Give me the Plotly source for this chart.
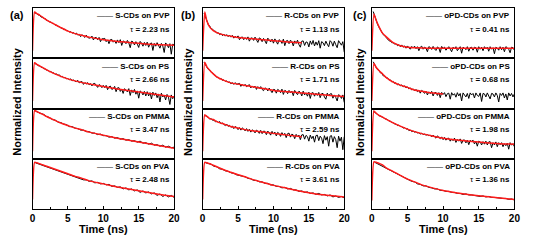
import plotly.graph_objects as go

FONT = "Liberation Sans"
W, H = 544, 240

panel_labels = ["(a)", "(b)", "(c)"]
sample_names = [
    ["S-CDs on PVP", "S-CDs on PS", "S-CDs on PMMA", "S-CDs on PVA"],
    ["R-CDs on PVP", "R-CDs on PS", "R-CDs on PMMA", "R-CDs on PVA"],
    ["oPD-CDs on PVP", "oPD-CDs on PS", "oPD-CDs on PMMA", "oPD-CDs on PVA"],
]
lifetimes = [
    ["2.23", "2.66", "3.47", "2.48"],
    ["1.13", "1.71", "2.59", "3.61"],
    ["0.41", "0.68", "1.98", "1.36"],
]
x_ticks = [0, 5, 10, 15, 20]

# time grids (ns)
time_coarse = [0.4, 0.8, 1.2, 1.6, 2.0, 2.4, 2.8, 3.2, 3.6, 4.0,
               4.4, 4.8, 5.2, 5.6, 6.0, 6.4, 6.8, 7.2, 7.6, 8.0,
               8.4, 8.8, 9.2, 9.6, 10.0, 10.4, 10.8, 11.2, 11.6, 12.0,
               12.4, 12.8, 13.2, 13.6, 14.0, 14.4, 14.8, 15.2, 15.6, 16.0,
               16.4, 16.8, 17.2, 17.6, 18.0, 18.4, 18.8, 19.2, 19.6, 20.0]
time_fine = [0.2, 0.4, 0.6, 0.8, 1.0, 1.2, 1.4, 1.6, 1.8, 2.0,
             2.2, 2.4, 2.6, 2.8, 3.0, 3.2, 3.4, 3.6, 3.8, 4.0,
             4.2, 4.4, 4.6, 4.8, 5.0, 5.2, 5.4, 5.6, 5.8, 6.0,
             6.2, 6.4, 6.6, 6.8, 7.0, 7.2, 7.4, 7.6, 7.8, 8.0,
             8.2, 8.4, 8.6, 8.8, 9.0, 9.2, 9.4, 9.6, 9.8, 10.0,
             10.2, 10.4, 10.6, 10.8, 11.0, 11.2, 11.4, 11.6, 11.8, 12.0,
             12.2, 12.4, 12.6, 12.8, 13.0, 13.2, 13.4, 13.6, 13.8, 14.0,
             14.2, 14.4, 14.6, 14.8, 15.0, 15.2, 15.4, 15.6, 15.8, 16.0,
             16.2, 16.4, 16.6, 16.8, 17.0, 17.2, 17.4, 17.6, 17.8, 18.0,
             18.2, 18.4, 18.6, 18.8, 19.0, 19.2, 19.4, 19.6, 19.8, 20.0]

# measured decays (normalized, visual scale)
s_pvp = [.91, .90, .89, .86, .86, .82, .82, .79, .79, .75,
         .75, .72, .72, .69, .69, .66, .66, .63, .63, .60,
         .60, .57, .58, .55, .55, .52, .53, .50, .51, .48,
         .50, .46, .475, .43, .47, .44, .415, .46, .415, .40,
         .405, .44, .365, .41, .415, .37, .415, .33, .385, .39,
         .395, .33, .365, .29, .37, .375, .32, .35, .295, .365,
         .31, .37, .255, .345, .33, .29, .355, .305, .21, .34,
         .325, .265, .33, .28, .215, .335, .30, .24, .315, .255,
         .32, .22, .29, .305, .155, .295, .24, .31, .25, .20,
         .295, .245, .115, .305, .27, .21, .29, .08, .28, .27]
s_ps = [.90, .89, .88, .85, .85, .82, .82, .79, .79, .76,
        .76, .73, .74, .71, .71, .68, .69, .66, .67, .63,
        .64, .61, .62, .59, .60, .57, .59, .55, .57, .54,
        .535, .56, .51, .53, .535, .48, .515, .49, .515, .47,
        .495, .45, .495, .50, .445, .42, .475, .46, .415, .46,
        .415, .46, .375, .43, .445, .38, .395, .44, .335, .41,
        .415, .34, .385, .30, .395, .37, .33, .395, .26, .37,
        .315, .38, .285, .35, .205, .35, .325, .27, .34, .25,
        .335, .25, .315, .19, .325, .26, .31, .215, .29, .13,
        .305, .23, .265, .17, .28, .225, .08, .27, .195, .25]
s_pmma = [.95, .92, .90, .88, .84, .82, .78, .77, .73, .72,
          .69, .68, .64, .64, .61, .60, .57, .57, .54, .54,
          .51, .51, .48, .49, .46, .46, .43, .44, .41, .42,
          .39, .40, .37, .38, .35, .36, .33, .35, .31, .32,
          .29, .31, .27, .28, .25, .27, .23, .25, .22, .23]
s_pva = [.92, .90, .89, .86, .85, .82, .81, .78, .77, .74,
         .73, .70, .69, .66, .65, .62, .61, .58, .58, .55,
         .56, .52, .53, .50, .51, .48, .49, .45, .46, .43,
         .44, .40, .42, .38, .40, .36, .38, .33, .36, .32,
         .34, .30, .32, .27, .30, .25, .28, .24, .27, .23]
r_pvp = [.90, .82, .75, .67, .64, .59, .58, .54, .54, .50,
         .51, .47, .49, .45, .48, .44, .47, .43, .46, .42,
         .455, .40, .435, .41, .445, .37, .41, .425, .37, .41,
         .375, .425, .34, .40, .405, .355, .42, .36, .315, .405,
         .39, .33, .395, .345, .29, .40, .365, .325, .38, .30,
         .385, .325, .28, .37, .345, .295, .38, .25, .345, .355,
         .29, .36, .33, .245, .345, .295, .36, .27, .22, .34,
         .345, .255, .325, .315, .225, .345, .275, .355, .245, .325,
         .26, .35, .20, .33, .31, .25, .34, .28, .23, .35,
         .32, .24, .34, .27, .21, .35, .31, .26, .33, .12]
r_ps = [.92, .86, .82, .78, .76, .72, .71, .67, .66, .62,
        .62, .59, .60, .56, .57, .54, .55, .52, .53, .49,
        .515, .48, .515, .48, .485, .50, .44, .475, .45, .48,
        .435, .46, .475, .41, .445, .42, .445, .38, .435, .40,
        .435, .38, .355, .41, .395, .35, .405, .36, .315, .38,
        .375, .305, .38, .36, .315, .385, .28, .36, .345, .295,
        .36, .31, .345, .255, .36, .31, .275, .345, .32, .25,
        .345, .27, .31, .245, .325, .20, .31, .315, .245, .305,
        .26, .32, .215, .295, .30, .23, .185, .305, .25, .29,
        .295, .205, .27, .22, .15, .275, .255, .20, .27, .12]
r_pmma = [.87, .86, .835, .825, .79, .80, .765, .77, .735, .75,
          .72, .74, .695, .71, .685, .66, .69, .645, .665, .625,
          .65, .60, .64, .625, .58, .62, .57, .615, .59, .555,
          .60, .545, .585, .53, .575, .56, .515, .57, .55, .505,
          .565, .50, .55, .545, .48, .55, .52, .47, .545, .49,
          .53, .455, .525, .50, .445, .52, .47, .505, .42, .50,
          .51, .43, .49, .475, .40, .485, .44, .47, .38, .475,
          .48, .39, .465, .44, .35, .47, .40, .45, .33, .46,
          .47, .36, .45, .41, .30, .46, .37, .44, .25, .45,
          .46, .33, .44, .38, .22, .45, .35, .43, .18, .44]
r_pva = [.92, .90, .89, .85, .84, .80, .79, .76, .75, .72,
         .71, .68, .67, .65, .64, .61, .60, .57, .57, .54,
         .54, .51, .51, .48, .48, .45, .45, .42, .43, .40,
         .41, .38, .38, .35, .36, .33, .34, .31, .32, .29,
         .31, .28, .29, .26, .28, .24, .26, .23, .25, .22]
o_pvp = [.93, .84, .75, .68, .62, .56, .52, .47, .45, .41,
         .39, .35, .34, .31, .31, .28, .29, .25, .27, .23,
         .265, .22, .245, .20, .245, .22, .18, .235, .205, .24,
         .19, .23, .15, .22, .24, .18, .22, .20, .13, .23,
         .215, .175, .235, .185, .155, .225, .205, .115, .235, .195,
         .22, .16, .21, .23, .18, .13, .22, .19, .23, .15,
         .19, .23, .10, .22, .20, .17, .23, .14, .21, .22,
         .16, .22, .21, .12, .23, .18, .22, .15, .23, .19,
         .22, .14, .23, .18, .21, .09, .22, .20, .16, .23,
         .17, .22, .13, .23, .21, .18, .11, .22, .21, .16]
o_ps = [.93, .86, .82, .78, .76, .71, .70, .65, .65, .61,
        .61, .57, .57, .53, .54, .50, .51, .47, .49, .45,
        .47, .43, .45, .41, .43, .39, .41, .37, .39, .35,
        .38, .335, .36, .305, .36, .335, .30, .345, .27, .33,
        .295, .34, .25, .315, .32, .26, .315, .215, .32, .28,
        .315, .235, .295, .305, .185, .315, .265, .295, .225, .315,
        .25, .30, .15, .31, .28, .23, .30, .20, .31, .27,
        .30, .21, .31, .26, .24, .31, .14, .30, .29, .23,
        .31, .25, .19, .30, .29, .23, .31, .26, .13, .30,
        .26, .31, .21, .29, .17, .31, .25, .30, .23, .29]
o_pmma = [.95, .92, .90, .88, .86, .85, .83, .82, .80, .79,
          .78, .75, .75, .72, .72, .69, .69, .66, .67, .64,
          .64, .61, .62, .59, .60, .56, .57, .54, .55, .53,
          .54, .51, .52, .49, .51, .48, .49, .47, .48, .46,
          .47, .435, .47, .435, .41, .455, .43, .40, .435, .38,
          .425, .37, .405, .41, .35, .395, .36, .41, .325, .385,
          .35, .395, .305, .37, .375, .315, .37, .28, .365, .345,
          .37, .295, .345, .25, .35, .335, .275, .34, .29, .35,
          .275, .335, .34, .22, .32, .275, .335, .24, .32, .28,
          .32, .24, .30, .26, .31, .19, .32, .27, .30, .24]
o_pva = [.93, .90, .88, .84, .82, .78, .76, .72, .70, .66,
         .64, .60, .58, .55, .54, .50, .49, .46, .46, .43,
         .42, .40, .40, .37, .37, .35, .35, .33, .33, .31,
         .31, .29, .30, .28, .28, .27, .27, .25, .26, .24,
         .25, .23, .23, .22, .22, .21, .21, .19, .20, .18]

# fitted curves
fit_time = [0, 0.3, 0.6, 1, 1.5, 2, 3, 4, 5, 6, 7, 8, 10, 12, 14, 16, 18, 20]
s_pvp_fit = [.15, .92, .89, .86, .81, .76, .685, .61, .54, .49, .455, .42, .37, .335, .31, .285, .27, .26]
s_ps_fit = [.15, .91, .88, .85, .81, .77, .70, .64, .59, .55, .515, .49, .44, .39, .35, .31, .27, .23]
s_pmma_fit = [.15, .96, .94, .91, .88, .84, .775, .71, .66, .61, .575, .53, .47, .41, .36, .31, .26, .21]
s_pva_fit = [.19, .93, .92, .90, .875, .85, .80, .75, .70, .65, .61, .56, .50, .44, .39, .34, .29, .25]
r_pvp_fit = [.15, .92, .74, .62, .55, .51, .465, .44, .415, .40, .39, .375, .35, .325, .31, None, None, None]
r_ps_fit = [.15, .92, .83, .76, .69, .63, .56, .51, .485, .46, .435, .41, .36, .335, .31, .285, .26, .24]
r_pmma_fit = [.15, .87, .845, .80, .78, .74, .69, .64, .61, .58, .555, .54, .505, .47, .44, None, None, None]
r_pva_fit = [.19, .93, .92, .90, .87, .84, .78, .73, .68, .64, .59, .55, .47, .41, .35, .30, .27, .24]
o_pvp_fit = [.15, .88, .76, .63, .50, .43, .31, .25, .22, .21, .205, .20, .20, .20, .20, .20, .20, .20]
o_ps_fit = [.15, .90, .82, .755, .69, .62, .525, .465, .42, .37, .345, .32, .29, None, None, None, None, None]
o_pmma_fit = [.15, .95, .91, .865, .83, .79, .715, .65, .59, .54, .50, .47, .41, .375, .345, .32, .30, .29]
o_pva_fit = [.17, .94, .93, .91, .88, .82, .745, .67, .595, .54, .48, .44, .37, .32, .28, .25, .22, .19]

decays = [[s_pvp, s_ps, s_pmma, s_pva], [r_pvp, r_ps, r_pmma, r_pva], [o_pvp, o_ps, o_pmma, o_pva]]
fits = [[s_pvp_fit, s_ps_fit, s_pmma_fit, s_pva_fit],
        [r_pvp_fit, r_ps_fit, r_pmma_fit, r_pva_fit],
        [o_pvp_fit, o_ps_fit, o_pmma_fit, o_pva_fit]]

# layout geometry (pixels)
panel_x = [(30, 174), (203, 347), (375, 520)]
top_px, bottom_px = 8, 209
row_h = (bottom_px - top_px) / 4
label_x = [14, 188, 363]


def px(x):
    return x / W


def py(y):
    return 1 - y / H


fig = go.Figure()
layout = dict(
    width=W, height=H, margin=dict(l=0, r=0, t=0, b=0),
    paper_bgcolor="white", plot_bgcolor="white", showlegend=False,
    font=dict(family=FONT, color="black"),
)
annotations = []

for p in range(3):
    x0, x1 = panel_x[p]
    for r in range(4):
        idx = p * 4 + r + 1
        xa = "x" if idx == 1 else f"x{idx}"
        ya = "y" if idx == 1 else f"y{idx}"
        xkey = "xaxis" if idx == 1 else f"xaxis{idx}"
        ykey = "yaxis" if idx == 1 else f"yaxis{idx}"
        t_px = top_px + r * row_h
        b_px = top_px + (r + 1) * row_h
        bottom = r == 3
        xaxis = dict(
            domain=[px(x0), px(x1)], anchor=ya, range=[0, 20],
            showline=True, mirror=True, linecolor="black", linewidth=1,
            showgrid=False, zeroline=False,
            tickvals=x_ticks if bottom else [],
            showticklabels=bottom,
            ticks="inside" if bottom else "", ticklen=3, tickcolor="black",
            tickfont=dict(family=FONT, size=10, weight="bold", color="black"),
        )
        if bottom:
            xaxis["minor"] = dict(ticks="inside", dtick=2.5, ticklen=2, tickcolor="black")
        layout[xkey] = xaxis
        layout[ykey] = dict(
            domain=[py(b_px), py(t_px)], anchor=xa, range=[0, 1.0],
            showline=True, mirror=True, linecolor="black", linewidth=1,
            showgrid=False, zeroline=False, showticklabels=False, ticks="",
        )
        ys = decays[p][r]
        xs = time_fine if len(ys) == len(time_fine) else time_coarse
        fig.add_trace(go.Scatter(
            x=xs, y=ys, xaxis=xa, yaxis=ya, mode="lines",
            line=dict(color="black", width=1.0),
        ))
        fig.add_trace(go.Scatter(
            x=fit_time, y=fits[p][r], xaxis=xa, yaxis=ya, mode="lines",
            line=dict(color="#ff1a1a", width=1.5, shape="spline", smoothing=0.5),
            connectgaps=False,
        ))
        annotations.append(dict(
            x=px(x1 - 2), y=py(t_px + 8), xref="paper", yref="paper",
            xanchor="right", yanchor="middle", showarrow=False,
            text="\u2014\u2014 <b>" + sample_names[p][r] + "</b>",
            font=dict(family=FONT, size=8, color="black"),
        ))
        annotations.append(dict(
            x=px(x1 - 2), y=py(t_px + 21), xref="paper", yref="paper",
            xanchor="right", yanchor="middle", showarrow=False,
            text="\u03c4<b> = " + lifetimes[p][r] + " ns</b>",
            font=dict(family=FONT, size=8, color="black"),
        ))
    annotations.append(dict(
        x=px(label_x[p]), y=py(15), xref="paper", yref="paper",
        xanchor="center", yanchor="middle", showarrow=False,
        text="<b>" + panel_labels[p] + "</b>",
        font=dict(family=FONT, size=11, color="black"),
    ))
    annotations.append(dict(
        x=px(label_x[p]), y=py(102), xref="paper", yref="paper",
        xanchor="center", yanchor="middle", showarrow=False, textangle=-90,
        text="<b>Normalized Intensity</b>",
        font=dict(family=FONT, size=11, color="black"),
    ))
    annotations.append(dict(
        x=px((x0 + x1) / 2), y=py(229), xref="paper", yref="paper",
        xanchor="center", yanchor="middle", showarrow=False,
        text="<b>Time (ns)</b>",
        font=dict(family=FONT, size=11, color="black"),
    ))

layout["annotations"] = annotations
fig.update_layout(**layout)
fig.write_html("out.html", config={"displayModeBar": False},
               post_script="document.body.style.margin='0px';")
